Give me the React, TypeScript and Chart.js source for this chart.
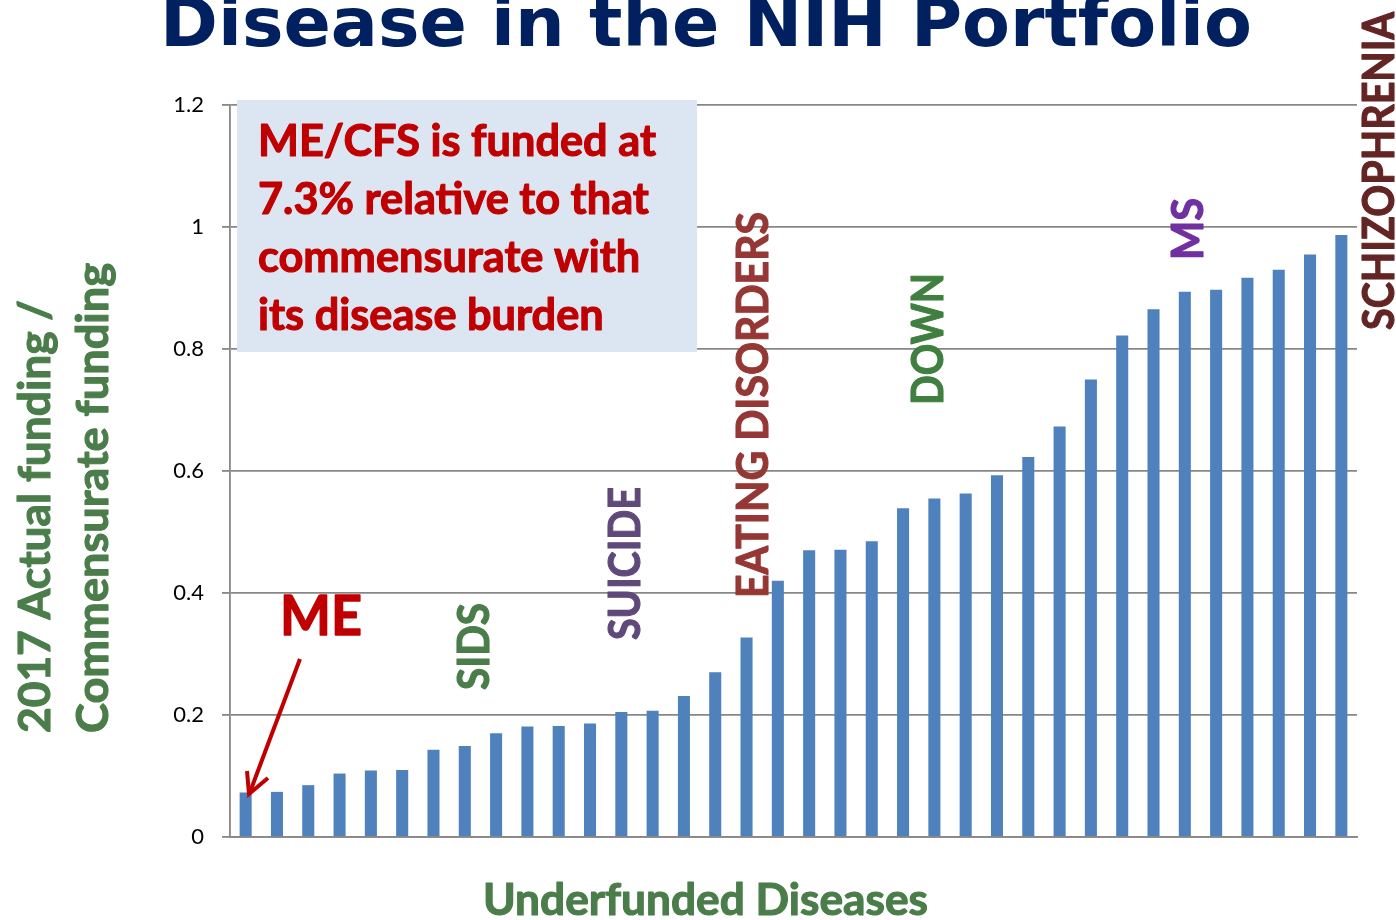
import { useEffect, useRef } from "react";
import { Chart, registerables } from "chart.js";

Chart.register(...registerables);

// ---------- DATA ----------
const categories = [
  "ME/CFS", "2", "3", "4", "5", "6", "7", "8", "9", "10", "11", "12",
  "13", "14", "15", "16", "17", "18", "19", "20", "21", "22", "23", "24",
  "25", "26", "27", "28", "29", "30", "31", "32", "33", "34", "35", "36",
];
const fundingRatio = [
  0.073, 0.074, 0.085, 0.104, 0.109, 0.110, 0.143, 0.149, 0.170, 0.181, 0.182, 0.186,
  0.205, 0.207, 0.231, 0.270, 0.327, 0.420, 0.470, 0.471, 0.485, 0.539, 0.555, 0.563,
  0.593, 0.623, 0.673, 0.750, 0.822, 0.865, 0.894, 0.897, 0.917, 0.930, 0.955, 0.987,
];
const yTickValues = [0, 0.2, 0.4, 0.6, 0.8, 1, 1.2];
const yTickLabels = ["0", "0.2", "0.4", "0.6", "0.8", "1", "1.2"];

const titleText = "Disease in the NIH Portfolio";
const yTitleLines = ["2017 Actual funding /", "Commensurate funding"];
const xTitleText = "Underfunded Diseases";
const calloutLines = [
  "ME/CFS is funded at",
  "7.3% relative to that",
  "commensurate with",
  "its disease burden",
];
const diseaseLabels = ["SIDS", "SUICIDE", "EATING DISORDERS", "DOWN", "MS", "SCHIZOPHRENIA"];
const highlightLabel = "ME";

// ---------- LAYOUT / STYLE ----------
const BODY_FONT = "Lato, 'Open Sans', sans-serif";
const GREEN = "#4a7d4a";
const RED = "#c00000";
const labelLayout = [
  { x: 489, y: 690, len: 87, color: "#4a7d4a" },
  { x: 640, y: 640, len: 153, color: "#5f497a" },
  { x: 768, y: 598, len: 386, color: "#953735" },
  { x: 943, y: 405, len: 132, color: "#3f7f3f" },
  { x: 1203, y: 260, len: 62, color: "#7030a0" },
  { x: 1394, y: 330, len: 318, color: "#632523" },
];

function fitText(
  ctx: CanvasRenderingContext2D,
  text: string,
  x: number,
  y: number,
  font: string,
  color: string,
  targetW: number,
  rotate = false,
  thicken = 0
) {
  ctx.save();
  ctx.font = font;
  const w = ctx.measureText(text).width || 1;
  const s = targetW / w;
  ctx.translate(x, y);
  if (rotate) ctx.rotate(-Math.PI / 2);
  ctx.scale(s, 1);
  ctx.fillStyle = color;
  ctx.textAlign = "left";
  ctx.textBaseline = "alphabetic";
  ctx.fillText(text, 0, 0);
  if (thicken > 0) {
    ctx.strokeStyle = color;
    ctx.lineWidth = thicken;
    ctx.lineJoin = "round";
    ctx.strokeText(text, 0, 0);
  }
  ctx.restore();
}

const annotationPlugin = {
  id: "annotations",
  afterDraw(chart: any) {
    const ctx: CanvasRenderingContext2D = chart.ctx;
    const F = `bold 43px ${BODY_FONT}`;
    const TH = 1.1;
    // Title
    fitText(ctx, titleText, 160, 46, "bold 67px 'DejaVu Sans', sans-serif", "#002060", 1092);

    // Y axis title (two rotated lines)
    fitText(ctx, yTitleLines[0], 50, 733, F, GREEN, 433, true, TH);
    fitText(ctx, yTitleLines[1], 108, 733, F, GREEN, 470, true, TH);

    // X axis title
    fitText(ctx, xTitleText, 483, 915, F, GREEN, 445, false, TH);

    // Callout box
    ctx.save();
    ctx.fillStyle = "#dce6f2";
    ctx.fillRect(237, 100, 460, 252);
    ctx.font = F;
    const s = 398 / (ctx.measureText(calloutLines[0]).width || 1);
    const widths = calloutLines.map((l) => ctx.measureText(l).width);
    ctx.restore();
    calloutLines.forEach((line, i) => {
      fitText(ctx, line, 258, 156 + i * 58, F, RED, widths[i] * s, false, TH);
    });

    // Disease labels (rotated)
    diseaseLabels.forEach((t, i) => {
      const L = labelLayout[i];
      fitText(ctx, t, L.x, L.y, F, L.color, L.len, true, TH);
    });

    // ME label + arrow
    fitText(ctx, highlightLabel, 280, 635, `bold 56px ${BODY_FONT}`, RED, 82, false, 1.4);
    ctx.save();
    ctx.strokeStyle = RED;
    ctx.lineWidth = 4;
    ctx.lineCap = "butt";
    ctx.lineJoin = "miter";
    ctx.beginPath();
    ctx.moveTo(300, 659);
    ctx.lineTo(250, 792);
    ctx.stroke();
    ctx.beginPath();
    ctx.moveTo(247, 771);
    ctx.lineTo(249, 794);
    ctx.lineTo(268, 778);
    ctx.stroke();
    ctx.restore();
  },
};

export default function App() {
  const canvasRef = useRef<HTMLCanvasElement | null>(null);

  useEffect(() => {
    if (!canvasRef.current) return;
    const gridColor = "#878787";
    const chart = new Chart(canvasRef.current, {
      type: "bar",
      data: {
        labels: categories,
        datasets: [
          {
            data: fundingRatio,
            backgroundColor: "#4f81bd",
            borderWidth: 0,
            barPercentage: 0.385,
            categoryPercentage: 1,
          },
        ],
      },
      options: {
        responsive: false,
        animation: false,
        layout: { padding: { left: 0, right: 39, top: 105, bottom: 83 } },
        plugins: {
          legend: { display: false },
          title: { display: false },
          tooltip: { enabled: false },
        },
        scales: {
          x: {
            grid: { display: false },
            border: { display: true, color: gridColor, width: 1.8 },
            ticks: { display: false },
            afterFit: (scale: any) => {
              scale.height = 0;
            },
          },
          y: {
            min: 0,
            max: 1.2,
            grid: {
              color: gridColor,
              lineWidth: 1.8,
              drawTicks: true,
              tickLength: 8,
              tickColor: gridColor,
            },
            border: { display: true, color: gridColor, width: 1.8 },
            ticks: {
              stepSize: 0.2,
              padding: 18,
              color: "#000",
              font: { family: BODY_FONT, size: 22 },
              callback: (value: any) => {
                const i = yTickValues.findIndex((v) => Math.abs(v - Number(value)) < 1e-6);
                return i >= 0 ? yTickLabels[i] : "";
              },
            },
            afterFit: (scale: any) => {
              scale.width = 230;
            },
          },
        },
      },
      plugins: [annotationPlugin],
    });
    const fonts = (document as any).fonts;
    if (fonts && fonts.load) {
      Promise.all([
        fonts.load(`bold 43px Lato`),
        fonts.load(`22px Lato`),
        fonts.load(`bold 67px 'DejaVu Sans'`),
      ])
        .then(() => chart.update())
        .catch(() => {});
    }
    return () => chart.destroy();
  }, []);

  return (
    <div style={{ position: "fixed", left: 0, top: 0, width: 1396, height: 920, background: "#fff" }}>
      <canvas ref={canvasRef} width={1396} height={920} style={{ display: "block" }} />
    </div>
  );
}
